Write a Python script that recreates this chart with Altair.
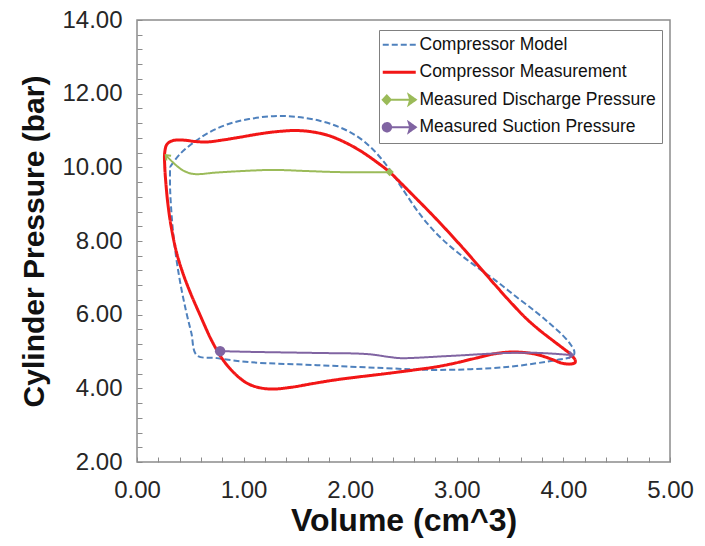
import math
import altair as alt
import pandas as pd

# Pressure-volume loops: volume in cm^3, cylinder pressure in bar
model_vol = [0.31, 0.40, 0.52, 0.66, 0.85, 1.05, 1.28, 1.50, 1.72, 1.90, 2.05, 2.18, 2.29, 2.38,
             2.46, 2.54, 2.63, 2.74, 2.87, 3.02, 3.20, 3.38, 3.56, 3.74, 3.88, 3.99, 4.06, 4.10,
             4.10, 4.06, 3.94, 3.47, 2.84, 2.31, 1.69, 1.06, 0.75, 0.56, 0.51, 0.46, 0.41, 0.37,
             0.34, 0.32, 0.31, 0.31]
model_p = [10.01, 10.35, 10.65, 10.92, 11.17, 11.31, 11.39, 11.37, 11.26, 11.09, 10.87, 10.58, 10.24, 9.90,
           9.55, 9.20, 8.82, 8.42, 8.03, 7.66, 7.27, 6.89, 6.48, 6.08, 5.74, 5.45, 5.22, 5.03,
           4.92, 4.84, 4.77, 4.58, 4.50, 4.55, 4.63, 4.71, 4.82, 4.90, 5.50, 6.10, 6.80, 7.50,
           8.20, 8.90, 9.47, 10.01]

meas_vol = [4.11, 4.11, 4.07, 3.99, 3.88, 3.75, 3.60, 3.47, 3.34, 3.15, 2.96, 2.80, 2.63, 2.31,
            2.05, 1.84, 1.65, 1.45, 1.27, 1.13, 1.02, 0.90, 0.80, 0.70, 0.59, 0.50, 0.43, 0.37,
            0.32, 0.29, 0.27, 0.26, 0.26, 0.28, 0.33, 0.43, 0.55, 0.66, 0.80, 0.97, 1.13, 1.28,
            1.40, 1.50, 1.65, 1.80, 1.95, 2.10, 2.25, 2.37, 2.48, 2.60, 2.75, 2.91, 3.06, 3.22,
            3.38, 3.52, 3.65, 3.78, 3.90, 4.00, 4.07, 4.11]
meas_p = [4.78, 4.70, 4.66, 4.68, 4.80, 4.92, 4.98, 4.98, 4.93, 4.80, 4.67, 4.58, 4.51, 4.39,
          4.30, 4.22, 4.13, 4.03, 3.98, 4.03, 4.16, 4.45, 4.80, 5.30, 6.00, 6.60, 7.13, 7.70,
          8.40, 9.00, 9.60, 10.05, 10.40, 10.62, 10.72, 10.74, 10.70, 10.69, 10.74, 10.82, 10.90, 10.96,
          10.99, 11.00, 10.96, 10.86, 10.68, 10.44, 10.14, 9.87, 9.56, 9.21, 8.77, 8.28, 7.80, 7.27,
          6.74, 6.29, 5.90, 5.57, 5.30, 5.08, 4.92, 4.78]

discharge_vol = [2.37, 1.90, 1.59, 1.28, 1.06, 0.75, 0.53, 0.43, 0.35, 0.27]
discharge_p = [9.87, 9.87, 9.90, 9.93, 9.91, 9.86, 9.82, 9.92, 10.10, 10.33]

suction_vol = [0.78, 1.06, 1.69, 2.16, 2.37, 2.47, 2.94, 3.47, 3.78, 4.09]
suction_p = [5.01, 4.99, 4.96, 4.93, 4.85, 4.82, 4.88, 4.96, 4.96, 4.90]

SERIES = ["Compressor Model", "Compressor Measurement",
          "Measured Discharge Pressure", "Measured Suction Pressure"]
COLORS = ["#4f81bd", "#f21616", "#9bbb59", "#8064a2"]
DASHES = [[6, 3], [1, 0], [1, 0], [1, 0]]

X_DOMAIN = [0, 5]
Y_DOMAIN = [2, 14]
x_ticks = [round(0.2 * i, 1) for i in range(26)]
y_ticks = [round(2 + 0.4 * i, 1) for i in range(31)]

W, H = 533, 442
FONT = "Liberation Sans"


def frame(name, vol, p):
    return pd.DataFrame({"series": name, "vol": vol, "p": p, "step": range(len(vol))})


frames = [frame(SERIES[0], model_vol, model_p),
          frame(SERIES[1], meas_vol, meas_p),
          frame(SERIES[2], discharge_vol, discharge_p),
          frame(SERIES[3], suction_vol, suction_p)]

# Legend symbols: plain line, or line with start marker and arrowhead
LINE_PATH = "M-1.1,0L2.2,0"
ARROW_TAIL = "M1.5,-0.5L2.2,0L1.5,0.5L1.65,0Z"
DIAMOND_PATH = LINE_PATH + "M-0.7,-0.42L-0.3,0L-0.7,0.42L-1.1,0Z" + ARROW_TAIL
CIRCLE_PATH = LINE_PATH + "M-1.1,0A0.42,0.42 0 1,0 -0.26,0A0.42,0.42 0 1,0 -1.1,0Z" + ARROW_TAIL

shape_expr = (f"datum.value == '{SERIES[2]}' ? '{DIAMOND_PATH}' : "
              f"datum.value == '{SERIES[3]}' ? '{CIRCLE_PATH}' : '{LINE_PATH}'")
fill_expr = (f"datum.value == '{SERIES[2]}' ? '{COLORS[2]}' : "
             f"datum.value == '{SERIES[3]}' ? '{COLORS[3]}' : 'transparent'")
width_expr = f"datum.value == '{SERIES[1]}' ? 3 : 2"

legend = alt.Legend(
    title=None, orient="none", legendX=242, legendY=10,
    labelFont=FONT, labelFontSize=17.5, labelColor="#111111", labelLimit=400,
    symbolSize=400, labelOffset=17, rowPadding=8.5,
    padding=6, strokeColor="#808080", fillColor="white",
    symbolType={"expr": shape_expr},
    symbolFillColor={"expr": fill_expr},
    symbolStrokeWidth={"expr": width_expr},
)

color = alt.Color("series:N", scale=alt.Scale(domain=SERIES, range=COLORS), legend=legend)
dash = alt.StrokeDash("series:N", scale=alt.Scale(domain=SERIES, range=DASHES), legend=legend)

x_axis = alt.Axis(
    values=x_ticks, title="Volume (cm^3)", grid=False, domain=False,
    ticks=True, tickSize=5, offset=-5, tickColor="#8c8c8c", tickWidth=1,
    labelExpr="abs(datum.value - round(datum.value)) < 1e-6 ? format(datum.value, '.2f') : ''",
    labelFont=FONT, labelFontSize=24, labelColor="#262626", labelPadding=16,
    labelFlush=False, labelOverlap=False,
    titleFont=FONT, titleFontSize=32, titleFontWeight="bold", titleColor="#111111", titlePadding=3,
)
y_axis = alt.Axis(
    values=y_ticks, title="Cylinder Pressure (bar)", grid=False, domain=False,
    ticks=True, tickSize=5, offset=-5, tickColor="#8c8c8c", tickWidth=1,
    labelExpr="abs(datum.value / 2 - round(datum.value / 2)) < 1e-6 ? format(datum.value, '.2f') : ''",
    labelFont=FONT, labelFontSize=24, labelColor="#262626", labelPadding=15,
    labelOverlap=False,
    titleFont=FONT, titleFontSize=30, titleFontWeight="bold", titleColor="#111111", titlePadding=12,
)

x_enc = alt.X("vol:Q", scale=alt.Scale(domain=X_DOMAIN, nice=False, zero=False), axis=x_axis)
y_enc = alt.Y("p:Q", scale=alt.Scale(domain=Y_DOMAIN, nice=False, zero=False), axis=y_axis)

widths = [2, 3, 2, 2]
line_layers = [
    alt.Chart(df).mark_line(interpolate="catmull-rom", strokeWidth=w).encode(
        x=x_enc, y=y_enc, color=color, strokeDash=dash, order="step:Q")
    for df, w in zip(frames, widths)
]

# Start markers: diamond on discharge, circle on suction
starts = pd.DataFrame({
    "vol": [discharge_vol[0], suction_vol[0]],
    "p": [discharge_p[0], suction_p[0]],
    "kind": ["diamond", "circle"],
    "tint": [COLORS[2], COLORS[3]],
    "area": [70, 110],
})
start_marks = alt.Chart(starts).mark_point(filled=True, opacity=1).encode(
    x=x_enc, y=y_enc,
    shape=alt.Shape("kind:N", scale=None),
    color=alt.Color("tint:N", scale=None),
    size=alt.Size("area:Q", scale=None),
)

# Arrowheads at the end of the measured-pressure traces, pointing along the trace
sx = W / (X_DOMAIN[1] - X_DOMAIN[0])
sy = H / (Y_DOMAIN[1] - Y_DOMAIN[0])


def heading(vol, p):
    dx = (vol[-1] - vol[-2]) * sx
    dy = -(p[-1] - p[-2]) * sy
    return math.degrees(math.atan2(dy, dx)) % 360


ends = pd.DataFrame({
    "vol": [discharge_vol[-1], suction_vol[-1]],
    "p": [discharge_p[-1], suction_p[-1]],
    "tint": [COLORS[2], COLORS[3]],
    "heading": [heading(discharge_vol, discharge_p), heading(suction_vol, suction_p)],
})
arrow_marks = alt.Chart(ends).mark_point(
    shape="M-1,-0.8L0,0L-1,0.8", filled=False, strokeWidth=2, size=70, opacity=1
).encode(
    x=x_enc, y=y_enc,
    color=alt.Color("tint:N", scale=None),
    angle=alt.Angle("heading:Q", scale=None),
)

chart = alt.layer(*line_layers, start_marks, arrow_marks).properties(
    width=W, height=H,
    padding={"left": 137, "top": 20, "right": 35, "bottom": 84},
    autosize=alt.AutoSizeParams(type="none"),
    background="white",
).configure_view(stroke="#8c8c8c", strokeWidth=1.5)

chart.save("out.html", embed_options={"renderer": "svg", "actions": False})
